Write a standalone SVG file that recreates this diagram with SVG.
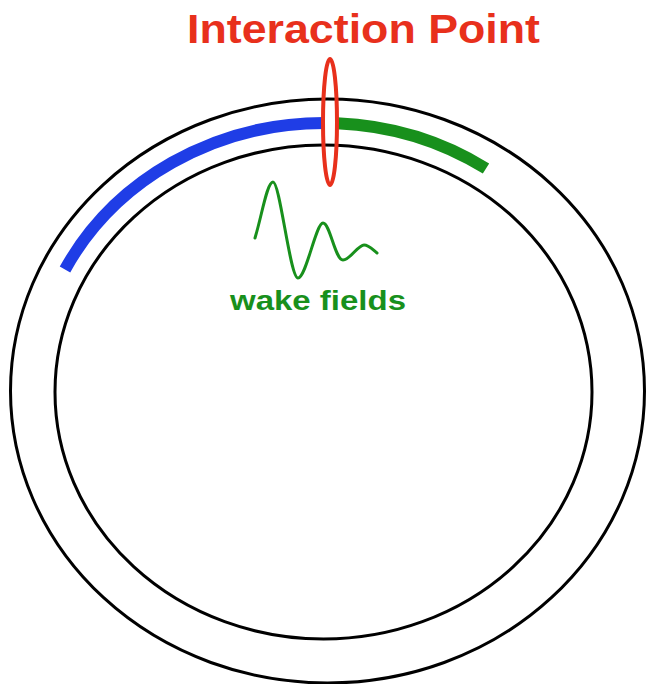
<svg xmlns="http://www.w3.org/2000/svg" width="648" height="684" viewBox="0 0 648 684">
  <style>
    .ring { fill: none; stroke: #000; stroke-width: 3; }
    .band { fill: none; stroke-width: 12; stroke-linecap: butt; }
    .lbl { font-family: "Liberation Sans", Arial, sans-serif; font-weight: bold; }
  </style>
  <rect width="648" height="684" fill="#fff"/>
  <g id="outer-ring">
    <ellipse class="ring" cx="327.5" cy="391" rx="317" ry="292"/>
  </g>
  <g id="inner-ring">
    <ellipse class="ring" cx="323.5" cy="392" rx="268.5" ry="247"/>
  </g>
  <g id="blue-beam">
    <path class="band" stroke="#1f3de6" d="M 65 269.5 A 291 269 0 0 1 324 123"/>
  </g>
  <g id="green-beam">
    <path class="band" stroke="#18901c" d="M 337 123.2 A 291 269 0 0 1 486 168.5"/>
  </g>
  <g id="interaction-point">
    <ellipse cx="330" cy="122" rx="7" ry="63" fill="none" stroke="#e8301c" stroke-width="4"/>
    <text class="lbl" x="187" y="43" font-size="40" fill="#e8301c" textLength="353" lengthAdjust="spacingAndGlyphs">Interaction Point</text>
  </g>
  <g id="wake-fields">
    <path fill="none" stroke="#18901c" stroke-width="3" stroke-linejoin="round" stroke-linecap="round"
      d="M 255 238 C 262 215 267 182 273 182 C 280 182 290 278 298 278 C 306 278 316 223 323 223 C 330 223 335 260 343 260 C 350 260 358 245 364 245 C 369 245 373 250 377 253"/>
    <text class="lbl" x="230" y="310" font-size="27" fill="#18901c" textLength="176" lengthAdjust="spacingAndGlyphs">wake fields</text>
  </g>
</svg>
